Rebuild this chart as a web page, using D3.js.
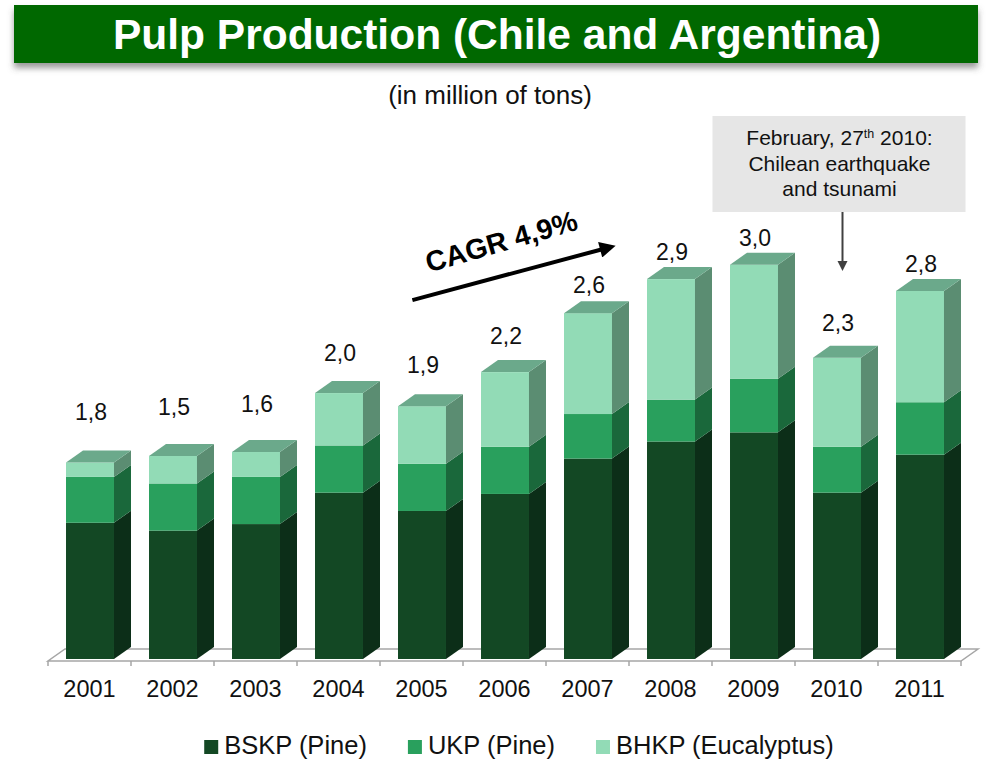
<!DOCTYPE html>
<html>
<head>
<meta charset="utf-8">
<script src="https://cdn.jsdelivr.net/npm/d3@7"></script>
<style>
  body { margin: 0; background: #fff; }
  text { font-family: "Liberation Sans", Arial, sans-serif; }
</style>
</head>
<body>
<svg id="chart" width="986" height="759"></svg>
<script>

// data (million tons)
const years = ["2001", "2002", "2003", "2004", "2005", "2006", "2007", "2008", "2009", "2010", "2011"];
const bskp = [1.04, 0.98, 1.03, 1.27, 1.13, 1.26, 1.53, 1.66, 1.73, 1.27, 1.56];
const ukp  = [0.35, 0.36, 0.36, 0.36, 0.36, 0.36, 0.34, 0.32, 0.41, 0.35, 0.40];
const bhkp = [0.11, 0.21, 0.19, 0.40, 0.44, 0.57, 0.77, 0.92, 0.87, 0.68, 0.85];
const totalLabels = ["1,8", "1,5", "1,6", "2,0", "1,9", "2,2", "2,6", "2,9", "3,0", "2,3", "2,8"];
const seriesKeys = ["bskp", "ukp", "bhkp"];
const seriesNames = ["BSKP (Pine)", "UKP (Pine)", "BHKP (Eucalyptus)"];

const colors = {
    bskp: { front: "#134824", side: "#0c2e18" },
    ukp:  { front: "#29a05d", side: "#1a683b" },
    bhkp: { front: "#92dbb6", side: "#5b8d72", top: "#6ba98b" }
};

const svg = d3.select("#chart");

//
// TITLE
//

const defs = svg.append("defs");
defs.append("filter")
    .attr("id", "shadow")
    .attr("x", "-5%").attr("y", "-20%").attr("width", "110%").attr("height", "160%")
    .append("feDropShadow")
        .attr("dx", 0).attr("dy", 5)
        .attr("stdDeviation", 3)
        .attr("flood-color", "#555")
        .attr("flood-opacity", 0.6);

svg.append("rect")
    .attr("x", 14).attr("y", 5)
    .attr("width", 964).attr("height", 58)
    .attr("fill", "#036803")
    .attr("filter", "url(#shadow)");

svg.append("text")
    .attr("x", 497).attr("y", 49)
    .attr("text-anchor", "middle")
    .style("font-size", "42.5px")
    .style("font-weight", "bold")
    .style("fill", "#fff")
    .text("Pulp Production (Chile and Argentina)");

svg.append("text")
    .attr("x", 490).attr("y", 104)
    .attr("text-anchor", "middle")
    .style("font-size", "26px")
    .style("fill", "#111")
    .text("(in million of tons)");

//
// SCALES
//

const base = 659;

const x = d3.scaleBand()
    .domain(years)
    .range([48, 961])
    .padding(0);

const y = d3.scaleLinear()
    .domain([0, 3])
    .range([base, base - 393]);

const bw = x.bandwidth();
const frontOff = bw * 0.217;
const frontW = bw * 0.578;
const dx = bw * 0.205;
const dy = -12;

const table = years.map((yr, i) => ({ year: yr, bskp: bskp[i], ukp: ukp[i], bhkp: bhkp[i], label: totalLabels[i] }));
const stacked = d3.stack().keys(seriesKeys)(table);

//
// FLOOR + TICKS
//

const floorY = base + 2;
const x0 = x.range()[0], x1 = x.range()[1];

svg.append("path")
    .attr("d", `M${x0},${floorY} L${x1},${floorY} L${x1 + dx},${floorY + dy} L${x0 + dx},${floorY + dy} Z`)
    .attr("fill", "none")
    .attr("stroke", "#a6a6a6")
    .attr("stroke-width", 1.5);

const tickPos = years.map(d => x(d)).concat([x1]);
svg.append("g")
    .selectAll("line")
    .data(tickPos)
    .enter().append("line")
        .attr("x1", d => d).attr("x2", d => d)
        .attr("y1", floorY).attr("y2", floorY + 5)
        .attr("stroke", "#a6a6a6")
        .attr("stroke-width", 1.5);

//
// BARS
//

const bars = svg.append("g").attr("class", "bars");

stacked.forEach((layer, li) => {
    const key = layer.key;
    const g = bars.append("g").attr("class", "layer_" + key);

    g.selectAll("rect")
        .data(layer)
        .enter().append("rect")
            .attr("x", d => x(d.data.year) + frontOff)
            .attr("y", d => y(d[1]))
            .attr("width", frontW)
            .attr("height", d => y(d[0]) - y(d[1]))
            .attr("fill", colors[key].front);

    g.selectAll("path.side")
        .data(layer)
        .enter().append("path")
            .attr("class", "side")
            .attr("d", d => {
                let xr = x(d.data.year) + frontOff + frontW;
                let yt = y(d[1]), yb = y(d[0]);
                return `M${xr},${yt} L${xr + dx},${yt + dy} L${xr + dx},${yb + dy} L${xr},${yb} Z`;
            })
            .attr("fill", colors[key].side);

    if (li === stacked.length - 1) {
        g.selectAll("path.top")
            .data(layer)
            .enter().append("path")
                .attr("class", "top")
                .attr("d", d => {
                    let xl = x(d.data.year) + frontOff;
                    let yt = y(d[1]);
                    return `M${xl},${yt} L${xl + dx},${yt + dy} L${xl + frontW + dx},${yt + dy} L${xl + frontW},${yt} Z`;
                })
                .attr("fill", colors[key].top);
    }
});

// total labels above bars
const topLayer = stacked[stacked.length - 1];
svg.append("g")
    .selectAll("text")
    .data(topLayer)
    .enter().append("text")
        .attr("x", d => x(d.data.year) + frontOff + frontW / 2 + 1)
        .attr("y", d => {
            let backTop = y(d[1]) + dy;
            return Math.min(0.85 * backTop + 37.5, backTop - 7);
        })
        .attr("text-anchor", "middle")
        .style("font-size", "23px")
        .style("fill", "#111")
        .text(d => d.data.label);

//
// X AXIS LABELS
//

const axis = svg.append("g")
    .attr("transform", `translate(0, ${floorY})`)
    .call(d3.axisBottom(x).tickSize(0).tickPadding(19));

axis.select(".domain").remove();
axis.selectAll("text")
    .style("font-size", "23.5px")
    .style("font-family", "'Liberation Sans', Arial, sans-serif")
    .style("fill", "#111");

//
// CAGR ARROW
//

defs.append("marker")
    .attr("id", "headBig")
    .attr("viewBox", "0 0 10 10")
    .attr("refX", 2).attr("refY", 5)
    .attr("markerWidth", 5).attr("markerHeight", 4)
    .attr("orient", "auto")
    .append("path")
        .attr("d", "M0,0 L10,5 L0,10 Z")
        .attr("fill", "#000");

const cagrX0 = x("2005") + bw * 0.39;
const cagrX1 = x("2007") + bw * 0.69;
svg.append("line")
    .attr("x1", cagrX0).attr("y1", y(2.74))
    .attr("x2", cagrX1).attr("y2", y(3.13))
    .attr("stroke", "#000")
    .attr("stroke-width", 4)
    .attr("marker-end", "url(#headBig)");

svg.append("text")
    .attr("transform", `translate(${x("2006") + 41}, 251) rotate(-16)`)
    .attr("text-anchor", "middle")
    .style("font-size", "28.5px")
    .style("font-weight", "bold")
    .style("fill", "#000")
    .text("CAGR 4,9%");

//
// EARTHQUAKE NOTE
//

const noteX = x("2010") + bw / 2 + 6;

defs.append("marker")
    .attr("id", "headSmall")
    .attr("viewBox", "0 0 10 10")
    .attr("refX", 1).attr("refY", 5)
    .attr("markerWidth", 5).attr("markerHeight", 6)
    .attr("orient", "auto")
    .append("path")
        .attr("d", "M0,0 L10,5 L0,10 Z")
        .attr("fill", "#404040");

svg.append("rect")
    .attr("x", noteX - 130).attr("y", 116)
    .attr("width", 253).attr("height", 96)
    .attr("fill", "#e6e6e6");

svg.append("line")
    .attr("x1", noteX).attr("y1", 212)
    .attr("x2", noteX).attr("y2", 262)
    .attr("stroke", "#404040")
    .attr("stroke-width", 2)
    .attr("marker-end", "url(#headSmall)");

const noteLines = ["February, 27", "Chilean earthquake", "and tsunami"];
const note = svg.append("g");
noteLines.forEach((line, i) => {
    let t = note.append("text")
        .attr("x", noteX - 3)
        .attr("y", 145 + i * 25.5)
        .attr("text-anchor", "middle")
        .style("font-size", "21px")
        .style("fill", "#111");
    t.append("tspan").text(line);
    if (i === 0) {
        t.append("tspan").attr("baseline-shift", "super").style("font-size", "12.5px").text("th");
        t.append("tspan").text(" 2010:");
    }
});

//
// LEGEND
//

const legend = svg.append("g");
let lx = 0;
seriesKeys.forEach((key, i) => {
    let item = legend.append("g").attr("transform", `translate(${lx}, 0)`);
    item.append("rect")
        .attr("x", 0).attr("y", -14)
        .attr("width", 14).attr("height", 14)
        .attr("fill", colors[key].front);
    let t = item.append("text")
        .attr("x", 20)
        .style("font-size", "25.5px")
        .style("fill", "#111")
        .text(seriesNames[i]);
    lx += 20 + t.node().getComputedTextLength() + 41;
});
legend.attr("transform", `translate(${519 - (lx - 41) / 2}, 754)`);

</script>
</body>
</html>
